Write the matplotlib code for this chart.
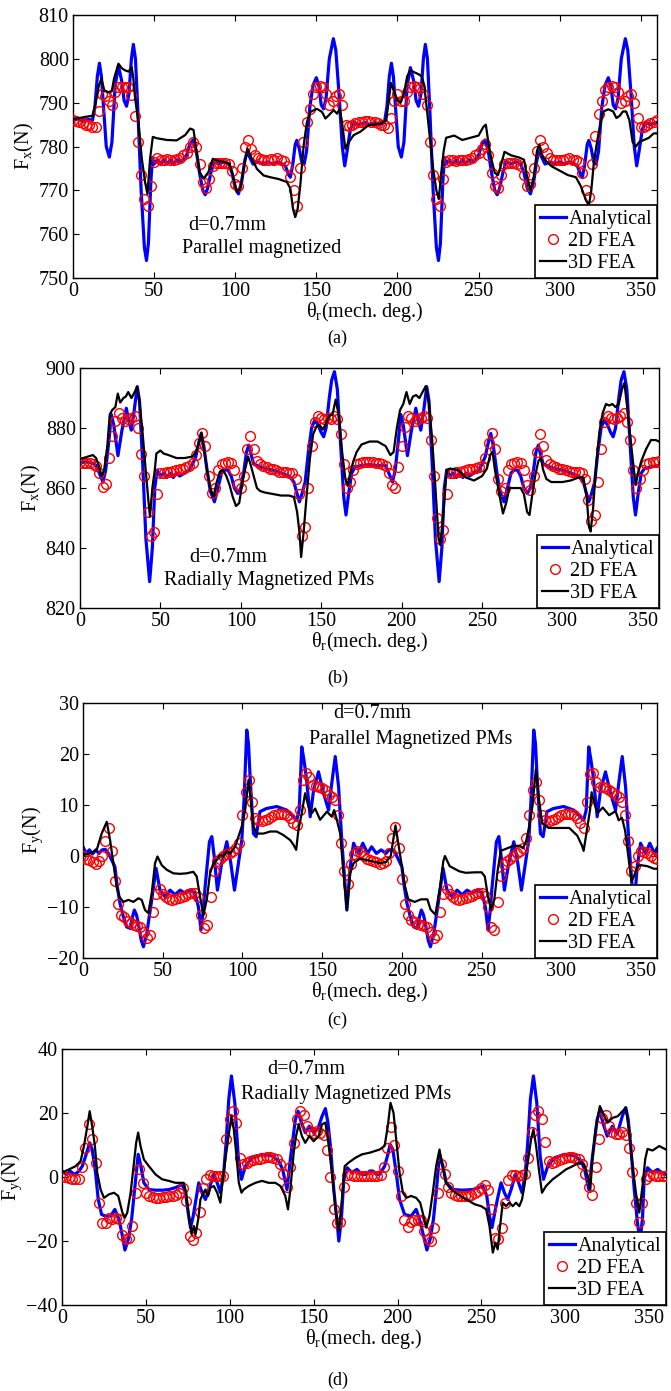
import numpy as np
import matplotlib
matplotlib.use('Agg')
import matplotlib.pyplot as plt

plt.rcParams['font.family'] = ['Liberation Serif', 'DejaVu Serif']
plt.rcParams['mathtext.fontset'] = 'custom'
plt.rcParams['mathtext.rm'] = 'Liberation Serif'
plt.rcParams['mathtext.it'] = 'Liberation Serif:italic'

# 2D FEA is sampled every 2 mech. deg
theta_2d = np.arange(0, 361, 2)

# ---------------- (a) Fx, parallel magnetized ----------------
a_ana = [(0, 786), (3, 786.3), (6, 785.8), (9, 786.2), (12, 786), (13.5, 789), (15, 796), (16.3, 799),
         (17.5, 796), (19, 788), (20.5, 780), (22.4, 777.6), (24, 781), (26, 794), (28, 798.4), (30, 795),
         (31.5, 790.5), (33, 789.2), (34.5, 792), (36, 800), (37.2, 803.3), (38.5, 800), (40, 788), (42, 770),
         (44, 757), (45.3, 754), (46.5, 758), (48, 772), (49, 777.5), (50, 776), (52, 777), (54, 776), (56, 777),
         (58, 776), (60, 777), (62, 776), (64, 777), (66, 776.5), (68, 777), (70, 778), (72, 780.5), (74, 781.5),
         (76, 779), (78, 774), (80, 770), (81.5, 769), (83, 770.5), (85, 774), (87, 776.5), (90, 776), (93, 776.5),
         (96, 776), (98, 774), (100, 770.5), (102, 769.2), (104, 772), (106, 777), (107.5, 779), (109, 777.5),
         (111, 776), (114, 776.5), (117, 776), (120, 776.5), (123, 776), (126, 776.5), (129, 776), (131, 775.5),
         (133, 773.5), (134, 773), (135.5, 776), (137, 780.5), (138, 781.4), (139.5, 779.5), (141, 776.5),
         (142.5, 776), (144, 779), (146, 789), (148, 794), (150, 795.7), (151.5, 794), (153, 789.5), (154.5, 788.6),
         (156, 791), (158, 800), (160.5, 804.6), (162, 802), (164, 792), (166, 780), (167.5, 775.6), (169, 779),
         (171, 784), (173, 785.5), (176, 785), (180, 785.5), (183, 785), (186, 785.5), (189, 785), (192, 785.5),
         (193.5, 789), (195, 796), (196.3, 799), (197.5, 796), (199, 788), (200.5, 780), (202.4, 777.6), (204, 781),
         (206, 794), (208, 798), (210, 795), (211.5, 790.5), (213, 789.2), (214.5, 792), (216, 800), (217.2, 803.3),
         (218.5, 800), (220, 788), (222, 770), (224, 757), (225.3, 754), (226.5, 758), (228, 772), (229, 777.5),
         (230, 776), (232, 777), (234, 776), (236, 777), (238, 776), (240, 777), (242, 776), (244, 777), (246, 776.5),
         (248, 777), (250, 778), (252, 780.5), (254, 781.5), (256, 779), (258, 774), (260, 770), (261.5, 769),
         (263, 770.5), (265, 774), (267, 776.5), (270, 776), (273, 776.5), (276, 776), (278, 774), (280, 770.5),
         (282, 769.2), (284, 772), (286, 777), (287.5, 779), (289, 777.5), (291, 776), (294, 776.5), (297, 776),
         (300, 776.5), (303, 776), (306, 776.5), (309, 776), (311, 775.5), (313, 773.5), (314, 773), (315.5, 776),
         (317, 780.5), (318, 781.4), (319.5, 779.5), (321, 776.5), (322.5, 776), (324, 779), (326, 789), (328, 794),
         (330, 795.7), (331.5, 794), (333, 789.5), (334.5, 788.6), (336, 791), (338, 800), (340.5, 804.6), (342, 802),
         (344, 792), (346, 780), (347.5, 775.6), (349, 779), (351, 784), (353, 785.5), (356, 785), (360, 785.5)]

a_2d = [786, 785.8, 785.5, 785.3, 785, 784.8, 784.5, 784.5, 788, 792,
        791.5, 790.5, 789.5, 792.5, 793.5, 793.6, 793.6, 793.6, 791.8, 787,
        781, 773.5, 768, 766.5, 771, 776.5, 777.3, 777, 777, 777.2,
        777, 777, 777.2, 777.5, 778, 778.5, 780, 781, 780, 776,
        772, 770.5, 772.5, 775.5, 776.2, 776.3, 776.3, 776.2, 776, 774.5,
        771.5, 771, 775, 780, 781.5, 779.5, 778, 777.5, 777.2, 777,
        777, 777.2, 777, 777.3, 777, 776.8, 775.5, 773, 770, 766.5,
        775, 781, 785.5, 788.5, 792, 793.5, 793.7, 793.5, 792, 789.5,
        790.5, 791.5, 792, 789.5, 785, 784.7, 785, 785.3, 785.5, 785.7,
        785.8, 785.8, 785.7, 785.5, 785.3, 785, 784.8, 784.3, 786.5, 790.5,
        792, 790.5, 790.3, 792.5, 793.5, 793.8, 793.5, 793.3, 792, 789.5,
        781, 773.5, 768, 766.5, 772.5, 776.5, 777, 777, 776.8, 777,
        777, 777, 777.2, 777.5, 778, 778.5, 779.5, 780.5, 778, 774,
        771, 770.5, 773.5, 776, 776.2, 776.3, 776.3, 776, 775.5, 773.5,
        771, 771.5, 775, 779, 781.5, 780, 778.5, 777.5, 777, 777,
        777, 777, 777.2, 777.3, 777, 777, 776.5, 774, 770, 768.5,
        776, 782.5, 787.5, 790.5, 793, 793.5, 793.7, 793.5, 792.5, 790,
        790.5, 791.5, 792, 790, 786.5, 784.5, 784.5, 785, 785.3, 785.6,
        786]

a_3d = [(0, 786.3), (4, 786.5), (8, 786.8), (12, 787), (14, 790), (16, 794), (17.5, 795.5), (19.3, 792.8),
        (21.8, 792.4), (23.9, 792.6), (25.3, 795.5), (28, 798.9), (30, 797.9), (32, 797.4), (34.2, 797.1),
        (36.2, 798.1), (37.2, 795.5), (38.3, 790.9), (40.3, 785.6), (42.4, 777.3), (44.4, 771.9), (45.9, 769.2),
        (47.5, 777.2), (49.2, 782.2), (51.6, 781.9), (57.8, 781.5), (63.9, 781.4), (69.1, 782.6), (72.2, 784.1),
        (74.3, 783.8), (75.9, 779.5), (78, 774.2), (80.5, 772.7), (83.5, 774.2), (86.2, 777.2), (88.7, 776.8),
        (92.8, 776.5), (96.5, 776.1), (98.6, 773.4), (101, 769.6), (103.1, 770.4), (105.1, 774.9), (107.6, 779.5),
        (110.3, 777.2), (113.4, 774.9), (117.5, 773.4), (121.6, 773), (126.7, 772.6), (131.9, 771.9), (134, 770.4),
        (135.6, 765.8), (137, 763.9), (138.5, 765.8), (140.1, 771.1), (142.2, 780.3), (144.2, 785.6), (146.3, 787.9),
        (150.4, 788.6), (153.5, 787.9), (155.6, 786.4), (157.6, 787.1), (160.7, 788.3), (162.8, 787.5),
        (164.4, 788.6), (165.8, 785.6), (167.9, 779.5), (170, 781), (173, 782.6), (177.2, 783.4), (182.3, 784.9),
        (186, 785), (190, 785.3), (193, 786), (194.5, 790), (196, 794.5), (198, 792.5), (200, 790.5), (202, 790),
        (204, 792), (206, 796), (208, 797.5), (210, 797), (213, 796.5), (215, 796), (216.5, 794), (218, 789),
        (220, 782), (222, 775), (224, 770), (225.5, 768), (227, 774), (228.5, 779), (230, 782), (235, 782.5),
        (240, 781.5), (245, 782), (250, 782.5), (253, 784.5), (254.5, 785), (256, 781), (258, 777), (260, 774),
        (262, 773.5), (264, 776), (266, 778.8), (270, 778), (275, 777.5), (278, 777), (280, 773), (282, 770),
        (284, 773), (286, 779), (287.5, 780.5), (289, 778), (292, 776.5), (295, 775.5), (300, 774.5), (305, 773.5),
        (310, 773), (313, 771), (316, 768), (318, 766.5), (319.5, 770), (321, 776), (323, 781), (325, 785),
        (327, 788), (330, 788.5), (333, 788), (335, 786.5), (337, 787), (339, 788), (341, 788), (343, 786),
        (345, 781), (347, 780), (349, 781), (352, 781.5), (355, 782), (358, 783), (360, 783)]

# ---------------- (b) Fx, radially magnetized ----------------
b_ana = [(0, 868.5), (4, 868.7), (8, 868.3), (10, 867.5), (12, 865), (14.3, 862), (16, 866), (18, 876),
         (19.5, 884.5), (21, 881), (23.6, 870.8), (26, 879), (28.8, 886.6), (30.5, 882), (31.9, 879.3), (33.5, 885),
         (35.6, 893.8), (37, 889), (39, 868), (41, 843), (43.3, 828.8), (45, 840), (46.5, 860), (48, 866), (50, 864),
         (52, 865), (54, 863.5), (56, 865), (58, 863.5), (60, 865), (62, 864), (65, 865), (68, 866), (70, 868),
         (72, 870.5), (74, 875.5), (75.4, 878.2), (77, 874), (79, 866), (81, 859), (83.6, 855.4), (86, 860.5),
         (88, 865), (90, 866), (92, 866), (94, 864), (96, 860), (98.1, 858.2), (100, 860), (102, 866), (103.5, 872),
         (105, 874.3), (106.5, 871), (108, 868), (110, 867.5), (115, 866.5), (120, 866), (125, 865), (130, 864),
         (133, 862), (134.5, 859), (136.4, 855.4), (138, 858), (140, 862), (142, 872), (144, 880), (146, 882.7),
         (148, 881), (150, 878.5), (151.5, 877.1), (153, 880), (155, 890), (156.5, 896), (158.2, 898.8), (160, 893),
         (162, 875), (164, 857), (165.4, 851), (167, 858), (169, 865), (171, 867), (175, 867.5), (180, 867.8),
         (185, 867.5), (190, 867.5), (192, 865), (194.3, 862), (196, 866), (198, 876), (199.5, 884.5), (201, 881),
         (203.6, 870.8), (206, 879), (208.8, 886.6), (210.5, 882), (211.9, 879.3), (213.5, 885), (215.6, 893.8),
         (217, 889), (219, 868), (221, 843), (223.3, 828.8), (225, 840), (226.5, 860), (228, 866), (230, 864),
         (232, 865), (234, 863.5), (236, 865), (238, 863.5), (240, 865), (242, 864), (245, 865), (248, 866),
         (250, 868), (252, 870.5), (254, 875.5), (255.4, 878.2), (257, 874), (259, 866), (261, 859), (263.6, 855.4),
         (266, 860.5), (268, 865), (270, 866), (272, 866), (274, 864), (276, 860), (278.1, 858.2), (280, 860),
         (282, 866), (283.5, 872), (285, 874.3), (286.5, 871), (288, 868), (290, 867.5), (295, 866.5), (300, 866),
         (305, 865), (310, 864), (313, 862), (314.5, 859), (316.4, 855.4), (318, 858), (320, 862), (322, 872),
         (324, 880), (326, 882.7), (328, 881), (330, 878.5), (331.5, 877.1), (333, 880), (335, 890), (336.5, 896),
         (338.2, 898.8), (340, 893), (342, 875), (344, 857), (345.4, 851), (347, 858), (349, 865), (351, 866.5),
         (355, 867), (360, 867.5)]

b_2d = [868.8, 868.5, 868.5, 868.3, 868, 867.3, 865, 860.5, 861.5, 870,
        877.5, 882.5, 885, 883.5, 882.5, 883, 883.5, 884, 880, 871.5,
        864, 852, 844, 845.5, 858, 865, 865, 865.3, 865.5, 865.7,
        866, 866.3, 866.5, 867, 867.5, 868.5, 871, 875, 878.5, 874,
        864, 858.5, 860, 866, 868, 868.5, 868.7, 868.5, 866, 861.5,
        860, 864, 873, 877.5, 873, 869, 868, 867.5, 867, 866.5,
        866.3, 866, 865.5, 865.5, 865.3, 865, 865, 863, 858, 844,
        847, 860, 874, 882, 884, 883.5, 883, 883.5, 883, 884,
        883, 878, 868, 860, 862, 866, 868, 868.5, 868.7, 868.8,
        868.8, 868.7, 868.5, 868.3, 868, 867.5, 865, 861, 860, 867,
        874, 880.5, 884, 883.5, 882.5, 883, 883.5, 884, 883.5, 876,
        864, 850, 843, 846, 858, 865, 865, 865.2, 865.5, 865.7,
        866, 866.2, 866.5, 866.8, 867, 867.5, 870, 875, 878.5, 873,
        863, 859, 860, 866, 868, 868.5, 868.7, 868.5, 866, 861,
        859.5, 864, 872, 878, 874, 869.5, 868, 867.5, 867, 866.5,
        866.3, 866, 865.8, 865.5, 865.5, 865.5, 865, 863, 856, 849,
        851, 862, 873, 882, 884, 883.5, 883, 883.5, 884, 885,
        882, 876, 866, 860, 863, 866, 868, 868.5, 868.7, 868.8,
        869]

b_3d = [(0, 869.5), (2, 870), (5, 870.5), (8, 871), (10, 870), (12, 867), (13.5, 864), (15, 866), (17, 874),
        (18.5, 884.5), (20, 886), (22, 887), (23.5, 891.5), (25, 888.5), (27, 890), (28.5, 890.5), (30, 892),
        (32, 890), (34, 892), (35.5, 893.8), (37, 889), (39, 878), (41, 865), (42.5, 856), (43.5, 850.5), (45, 860),
        (46.5, 866), (47.5, 871.5), (50, 872.5), (52, 871.5), (55, 871), (60, 870), (65, 870), (70, 870.5),
        (72, 872), (74, 875), (75.5, 878.5), (77, 873), (79, 866), (81, 860), (83, 857), (85, 862), (87, 865.5),
        (89, 866), (91, 864), (93, 861), (95, 857), (97, 854), (99, 855), (101, 862), (103, 867), (104.5, 870.5),
        (106, 868), (108, 864), (110, 860), (112, 859), (115, 858.5), (120, 858), (125, 857.5), (130, 857.5),
        (133, 857), (135, 852), (136.5, 845), (137.5, 837), (139, 845), (141, 858), (143, 870), (145, 878),
        (147, 880.5), (149, 881), (151, 879.5), (153, 881.5), (155, 884), (157, 884.5), (159, 889.5), (161, 884),
        (163, 872), (165, 863), (166.5, 861), (168, 865), (170, 869), (172, 872), (175, 874.5), (180, 875.5),
        (185, 875.5), (190, 874), (193, 871), (195, 872), (197, 880), (199, 886), (201, 888), (203, 892),
        (205, 888), (207, 890.5), (209, 891), (211, 890), (213, 892), (215, 894), (217, 888), (219, 876),
        (221, 860), (223, 843), (224, 841), (226, 852), (228, 866), (230, 866.5), (235, 866), (240, 863.5),
        (245, 862.5), (250, 864), (253, 866.5), (255, 871), (256.5, 872), (258, 866), (261, 857), (263, 851.5),
        (265, 855), (267, 860), (270, 860), (274, 860), (276, 858), (278, 852), (279.5, 851), (281, 857),
        (283, 864), (285, 869), (286.5, 870), (288, 866), (290, 863), (293, 862), (296, 862), (300, 862),
        (305, 862.5), (310, 863.5), (313, 863.5), (315, 857), (316.5, 847), (317.5, 845.5), (319, 853), (321, 868),
        (323, 879), (325, 885), (327, 888), (329, 887.5), (331, 888), (333, 887), (335, 888), (337, 893),
        (338.5, 895), (340, 888), (342, 878), (344, 868), (345.5, 861), (347, 865), (349, 869), (352, 873),
        (355, 876), (358, 876), (360, 875.5)]

# ---------------- (c) Fy, parallel magnetized ----------------
c_ana = [(0, 1.8), (2, 0.5), (4, 1.2), (6, 0.4), (8, 1.2), (10, 0.5), (12, 1.2), (14, 1.3), (16, 0.5), (18, -0.8),
         (20, -2.1), (21.5, -6), (23.2, -9.3), (25.3, -11.9), (27.4, -13.9), (29.5, -14.2), (31, -12), (32.2, -10.6),
         (33.5, -11.5), (34.7, -13.2), (36.5, -16.5), (37.9, -17.8), (40, -15.2), (43.1, -8.6), (45.8, -2.4),
         (48.3, -6.7), (51.5, -8), (54.6, -6.7), (57.7, -7.6), (60.9, -6.7), (64, -7.3), (67.2, -6.7), (70.3, -7.3),
         (72.4, -10), (74, -14.5), (75.3, -11), (76.6, -6), (79.3, 2.8), (80.8, 3.8), (82.4, -0.4), (84.3, -6.7),
         (87, -1.4), (90.2, 2.8), (92.7, -1.4), (95, -6.7), (97.5, -1.4), (99.6, 3.1), (101, 11), (102.7, 24.7),
         (103.8, 22), (104.8, 15.6), (106.9, 4.4), (108.6, 3.8), (111, 8.7), (115, 9.3), (121.5, 9.7), (127.8, 9),
         (132, 7.7), (134, 7), (135.6, 9), (137.2, 21.4), (138.5, 19), (140, 15.6), (142.5, 7.7), (144.6, 12.9),
         (147.7, 16.5), (150.8, 12.4), (154, 9), (156, 14.2), (158.2, 19.5), (160.3, 13.6), (162.3, 3.1),
         (164.4, -6), (165.5, -10.6), (167.6, -2.1), (169.7, 2.5), (172.8, 0.5), (175.5, 2.5), (178.5, 0.5),
         (181, 1.8), (184, 0.5), (187, 1.2), (190, 0.5), (192, 1.2), (194, 1.3), (196, 0.5), (198, -0.8),
         (200, -2.1), (201.5, -6), (203.2, -9.3), (205.3, -11.9), (207.4, -13.9), (209.5, -14.2), (211, -12),
         (212.2, -10.6), (213.5, -11.5), (214.7, -13.2), (216.5, -16.5), (217.9, -17.8), (220, -15.2), (223.1, -8.6),
         (225.8, -2.4), (228.3, -6.7), (231.5, -8), (234.6, -6.7), (237.7, -7.6), (240.9, -6.7), (244, -7.3),
         (247.2, -6.7), (250.3, -7.3), (252.4, -10), (254, -14.5), (255.3, -11), (256.6, -6), (259.3, 2.8),
         (260.8, 3.8), (262.4, -0.4), (264.3, -6.7), (267, -1.4), (270.2, 2.8), (272.7, -1.4), (275, -6.7),
         (277.5, -1.4), (279.6, 3.1), (281, 11), (282.7, 24.7), (283.8, 22), (284.8, 15.6), (286.9, 4.4),
         (288.6, 3.8), (291, 8.7), (295, 9.3), (301.5, 9.7), (307.8, 9), (312, 7.7), (314, 7), (315.6, 9),
         (317.2, 21.4), (318.5, 19), (320, 15.6), (322.5, 7.7), (324.6, 12.9), (327.7, 16.5), (330.8, 12.4),
         (334, 9), (336, 14.2), (338.2, 19.5), (340.3, 13.6), (342.3, 3.1), (344.4, -6), (345.5, -10.6),
         (347.6, -2.1), (349.7, 2.5), (352.8, 0.5), (355.5, 2.5), (358.5, 0.5), (360, 1.5)]

c_2d = [0, -0.5, -0.8, -1.2, -1.5, -1, 0, 3, 5.5, 1,
        -5, -9.5, -11.5, -12, -12.8, -13.2, -13.5, -13.8, -14, -15,
        -16, -15.5, -11, -7.5, -6.5, -7.5, -8, -8.5, -8.7, -8.5,
        -8.3, -8, -7.8, -7.5, -7.3, -7.2, -8, -11.5, -14.2, -13.5,
        -8, -3, -1, -0.5, 0, 0.3, 0.5, 1, 1.5, 2.5,
        8, 12.5, 15, 10.5, 7.5, 7, 6.8, 7, 7.3, 7.7,
        8, 8.2, 8.3, 8.3, 8, 7.5, 6.5, 6, 9, 15,
        16.2, 15.5, 14, 13.7, 13.5, 13.3, 13, 12, 11.5, 11,
        8, 2.5, -3, -5.5, -1.5, 0.3, 1, 0.8, 0, -0.5,
        -0.8, -1, -1.2, -1.5, -1.3, -1, 0.5, 3.5, 5.7, 1.5,
        -4.5, -9.5, -11.5, -12.5, -13, -13.3, -13.5, -13.8, -14, -15,
        -16, -15.5, -11, -7.5, -6.5, -7.5, -8, -8.5, -8.7, -8.5,
        -8.3, -8, -7.8, -7.5, -7.3, -7.2, -7.8, -10, -14, -14.5,
        -9, -4, -1.5, -1, -0.5, 0, 0.5, 1, 1.5, 3.5,
        8, 13, 14.5, 11, 8, 7, 6.8, 7, 7.3, 7.7,
        8, 8.2, 8.3, 8.2, 8, 7.5, 6.5, 5.5, 10.5, 16,
        16.3, 14.5, 13.5, 13.5, 13.3, 13, 12.5, 12, 11.5, 10.5,
        8, 3, -3, -2, 0, 1, 0.8, 0.5, 0, -0.3,
        -0.5]

c_3d = [(0, 0.2), (4.4, 0.5), (8.6, 1.2), (11.7, 4.4), (14.9, 6.7), (17, 3.1), (19, -1.4), (21.1, -6), (22.8, -8),
        (25.3, -9), (28.5, -8.6), (31.6, -9), (34.7, -8.3), (36.8, -8.6), (38.9, -10.6), (41, -11.2), (43.1, -7.3),
        (45.2, -1.4), (46.7, -0.1), (49.4, -1.8), (52.5, -2.7), (56.7, -3.4), (60.9, -3.5), (65, -3.4), (69.2, -3.1),
        (71.3, -4), (73.4, -8), (75.5, -11.6), (77.6, -8.6), (79.7, -3.4), (81.8, -1.4), (83.9, -0.8), (86, 0.2),
        (88, -0.1), (90.2, 0.9), (92.3, 0.5), (95.4, 1.8), (97.5, 3.8), (99.6, 5.8), (101.7, 9), (103.8, 14.9),
        (105.2, 11), (106.9, 5.8), (109, 4.4), (113.2, 4.4), (117.4, 4.8), (121.5, 4.8), (125.7, 4.1), (130, 3.1),
        (132, 2.2), (133.7, 1.2), (135.1, 5.1), (137.2, 8.4), (139.3, 12.3), (141.4, 9.7), (143.5, 8.4),
        (145.6, 9.3), (148.7, 7.1), (153, 8.7), (156, 7.7), (157.5, 9), (159.2, 7.1), (161.3, 4.4), (163.4, -3.4),
        (165.5, -10.6), (167.6, -3.4), (169.7, -1.4), (173.8, -0.5), (178, -0.8), (182.2, -1.1), (186.4, -1.4),
        (190, -1.2), (193, 0), (196, 6), (198, 2), (200, -2), (202, -6), (204, -8.5), (208, -9), (212, -8.5),
        (216, -8.5), (218, -10.5), (221, -11.5), (224, -6), (226, -1), (227, 0), (230, -2), (236, -3), (240, -3.3),
        (246, -3.2), (250, -3.2), (252, -4), (254, -8), (256, -10.5), (258, -8.5), (260, -3), (262, 1), (266, 1.5),
        (270, 2), (274, 2), (276, 1.5), (278, 3), (280, 6), (282, 10), (284, 17), (286, 11), (288, 6.5),
        (292, 5.5), (300, 5.5), (305, 5.5), (310, 4), (313, 2), (314, 1), (316, 5), (318, 9), (319, 12.5),
        (321, 10), (323, 8.5), (326, 9.5), (330, 8), (334, 8.8), (336, 7), (338, 7.5), (340, 5), (342, 0),
        (344, -5), (345.5, -4), (348, -2), (350, -1.8), (354, -2), (358, -2.5), (360, -2.5)]

# ---------------- (d) Fy, radially magnetized ----------------
d_ana = [(0, 1.9), (2.5, 0.8), (5, 1.8), (7.5, 0.8), (10, 1.8), (12.1, 3.4), (14.1, 6.6), (16.5, 10.7), (18, 8.6),
         (20, 1.4), (21.6, -7), (23.6, -11.7), (26, -12.2), (29, -12.2), (31.5, -10.1), (34, -13.2), (36, -18.4),
         (37.5, -22.8), (39.5, -19.5), (41.5, -13.2), (43.5, -2.8), (45.4, 7.1), (46.8, 4), (48.8, -1.8),
         (51.8, -3.9), (55.8, -4.1), (60, -4.1), (63.7, -3.9), (67.7, -3.3), (71.6, -2.3), (73.6, -4.9),
         (75.2, -11.1), (76.6, -15.8), (78.2, -12.2), (80, -6.5), (81.5, -1.8), (83.5, -4.9), (85.5, -7),
         (87.5, -3.9), (90.5, 0.8), (92.5, -1.8), (94.4, -4.9), (96.4, 1.4), (97.8, 10.7), (99.4, 24.3), (101, 31.6),
         (103, 23.2), (105, 6.6), (107, -0.7), (109.3, 3.4), (113.3, 6), (119.2, 7.1), (125.2, 6.6), (129.2, 5),
         (131.5, 2.4), (134.1, -3.9), (136.1, 5.5), (139.1, 18), (140.7, 20.6), (142.7, 17), (145, 13.9),
         (147.4, 15.9), (150, 13.9), (152.5, 15), (155, 19), (157, 21.4), (158.5, 17), (160, 9.7), (162, -3.9),
         (164, -14.3), (165, -20), (166.5, -13.2), (168, -0.7), (170, 2.9), (172.8, 1.4), (175.8, 2.4),
         (178.8, 0.8), (181.3, 0.8), (183.5, 1.9), (185.3, 1.9), (187.5, 0.8), (189.2, 0.8), (192.3, 3.4),
         (194, 6.6), (195.6, 10.2), (197.2, 8.6), (199.2, 1.4), (201.2, -7), (204.2, -11.7), (208.1, -12.2),
         (211.1, -10.1), (213.1, -13.2), (215.5, -18.4), (217.5, -22.8), (219.4, -19.5), (221.4, -13.2),
         (223.4, -2.8), (225, 7.1), (227, 3.5), (229, -1.8), (233, -3.9), (239, -4.1), (245, -3.9), (250.8, -2.8),
         (253.2, -5.9), (254.8, -12.2), (256.3, -15.8), (258, -11), (259.7, -6.5), (261.7, -1.8), (263.7, -4.9),
         (265.7, -7), (267.7, -3.9), (270.2, 0.8), (272.2, -1.8), (274.2, -4.9), (276.2, 1.4), (277.6, 10.7),
         (279.2, 24.3), (281, 31.6), (283, 23.2), (285, 6.6), (287, -0.7), (289.5, 3.4), (293.5, 6), (299.5, 7.1),
         (305.5, 6.6), (309.5, 5), (311.5, 2.4), (314, -3.9), (316, 5.5), (319, 18), (320.5, 20.6), (323, 16),
         (325, 12.8), (328, 15.9), (331, 13.5), (334, 19.1), (336, 21.7), (337.5, 18), (339, 9.7), (341.1, -3.9),
         (343, -14.3), (344.5, -20), (346, -13), (347, -0.7), (349, 2.9), (352, 1.4), (355, 2.4), (359, 0.8),
         (360, 1)]

d_2d = [0.3, 0, -0.3, -0.6, -0.7, -0.5, 3, 9, 16.5, 12,
        4.5, -8, -14.5, -14.3, -12.7, -13.2, -12.7, -13.2, -18, -19.5,
        -19, -15.3, -5, 2.5, -2, -5, -5.9, -6.2, -6.5, -6.5,
        -6.3, -6.2, -6, -5.8, -5.5, -5, -3.5, -7.5, -18.5, -19.8,
        -17.4, -11, -3.5, -0.5, 0.8, 0.3, 0.3, 0.3, 0.3, 12,
        18, 20.6, 17, 6, 4, 4.5, 5, 5.3, 5.5, 5.8,
        6, 6.2, 6.2, 6, 5.5, 4, 1, -3, 3, 10.5,
        18, 20.5, 19.5, 16, 14.4, 13.9, 14.4, 13.9, 13.3, 8.6,
        0, -10, -14.5, -14, -3, 0.5, 0.5, 0.3, 0.3, 0.3,
        0.3, 0.3, 0.3, 0.2, 0.2, 0.5, 3, 9, 15.5, 10,
        2, -6, -13.5, -15.5, -14, -13.5, -13.5, -13.5, -17, -19.5,
        -20, -16, -5, 4, 1, -3, -5, -5.5, -6, -6,
        -6, -5.8, -5.5, -5, -4.3, -3.5, -2.5, -4, -10, -19,
        -19.5, -16, -8, -1, 0.8, 0.5, 0.3, 0.5, 1, 6,
        14, 19.5, 20.5, 18, 11, 5, 4.3, 4.8, 5.3, 5.7,
        6, 6.2, 6.2, 6, 5.5, 4, 1, -3, -5.5, 3,
        12, 18.5, 19.5, 16, 14, 13.5, 13.5, 14, 13, 9,
        1.5, -8, -14, -8, -0.5, 0.3, 0.5, 0.3, 0.3, 0.3,
        0.3]

d_3d = [(0, 1.4), (4.2, 2.4), (8.1, 3.4), (11.1, 5), (13.1, 9.7), (15.1, 15.9), (16.5, 20.6), (18, 15.9),
        (19.6, 9.7), (21, 1.4), (23, -3.9), (25, -6.5), (28, -5.4), (31, -4.9), (33.5, -5.9), (36, -11.1),
        (37.5, -12.7), (38.9, -11.1), (40.9, -4.9), (42.9, 4.5), (44.2, 10.7), (45.4, 13.9), (46.8, 9.7),
        (48.8, 5.5), (51.8, 3.4), (55.8, 0.8), (59.7, -0.7), (63.7, -1.2), (67.7, -1.8), (72.6, -1.8), (74, -4.9),
        (75.6, -12.2), (77.2, -17.9), (78.6, -15.3), (79.6, -17.9), (81.2, -13.2), (82.5, -7), (83.9, -5.4),
        (85.5, -3.9), (87.1, -5.9), (88.5, -3.3), (90.5, -2.8), (92.5, -4.9), (94.4, -8), (95.8, -0.7), (97.4, 5.5),
        (99, 11.8), (101, 19.1), (102.4, 14.9), (103.8, 7.6), (105.4, -1.8), (107, -4.9), (108.3, -3.9),
        (111.3, -2.8), (115.3, -1.8), (119.2, -1.2), (123.2, -1.8), (127.2, -1.8), (130.2, -2.8), (133.1, -5.9),
        (134.7, -10.1), (136.1, -3.9), (138.1, 7.6), (139.5, 12.8), (141.1, 16.5), (143, 12.8), (145, 10.7),
        (147.4, 12.8), (150, 11.2), (153, 12.8), (155, 16.5), (157, 17), (159, 9.7), (161.3, -0.7), (163.3, -11.1),
        (164.9, -16.9), (166.5, -9.1), (168.5, 3.4), (170.8, 4.5), (174.8, 6), (178.8, 7.1), (183.3, 7.6),
        (189.3, 8.6), (192.3, 9.7), (194.2, 15.9), (195.8, 23.2), (197.6, 20.1), (199.2, 11.8), (201.2, 1.4),
        (203.2, -4.9), (205.2, -6.5), (208.1, -5.9), (211.1, -6.5), (213.5, -8), (215.5, -12.2), (217.1, -15.8),
        (219, -12.2), (221, -4.9), (223, 3.4), (225, 8.6), (227, 2.9), (229, -1.8), (232, -3.9), (236, -5.4),
        (241, -7), (246, -8.5), (249.8, -9.1), (252.8, -10.1), (254.8, -15.3), (256.8, -23.6), (258.3, -20.5),
        (259.7, -22.6), (260.7, -17.4), (262.7, -8), (264.7, -9.1), (266.7, -8), (268.7, -9.1), (270.6, -8),
        (272.6, -9.1), (274.2, -7), (275.6, -2.8), (277.6, 4.5), (279.6, 11.8), (281, 14.9), (282.6, 9.7),
        (284.5, 1.4), (286.1, -4.9), (288.5, -2.8), (292.5, -0.7), (296.4, 0.8), (300.4, 2.4), (304.4, 3.4),
        (308.3, 4.5), (311.3, 4), (313.9, -0.7), (314.9, -3.9), (316.3, 6.6), (318.3, 15.9), (320.6, 22.2),
        (323.2, 19.1), (325.2, 17), (328.2, 18.5), (331.2, 19), (334.1, 20.6), (336.1, 21.7), (338.1, 13.9),
        (340.1, 3.4), (342.1, -4.9), (344.1, -11.1), (346, -2.8), (347.6, 5.5), (349, 8.8), (352, 8.3),
        (356, 9.7), (360, 8.6)]

FS = 14.5


def panel(rect, ana, fea2, fea3, ylim, yticks, ylabel, notes, caption, cap_y):
    ax = fig.add_axes(rect)
    xa, ya = np.array(ana).T
    ax.plot(xa, ya, color='#0000ff', lw=2.3, label='Analytical', zorder=2)
    ax.plot(theta_2d, fea2, 'o', ms=7, mfc='none', mec='#ff0000', mew=1.0, label='2D FEA', zorder=3)
    x3, y3 = np.array(fea3).T
    ax.plot(x3, y3, color='k', lw=1.6, label='3D FEA', zorder=4)
    ax.set_xlim(0, 360)
    ax.set_ylim(*ylim)
    ax.set_xticks(np.arange(0, 351, 50))
    ax.set_yticks(yticks)
    ax.tick_params(direction='in', top=True, right=True, length=4, labelsize=FS, pad=3)
    for s in ax.spines.values():
        s.set_linewidth(1.0)
    ax.set_ylabel(ylabel, fontsize=FS, labelpad=2)
    ax.set_xlabel(r'$\mathrm{\theta_r}$(mech. deg.)', fontsize=FS, labelpad=-1)
    for (tx, ty, s) in notes:
        ax.text(tx, ty, s, fontsize=FS, ha='left', va='center', zorder=5)
    leg = ax.legend(loc='lower right', fontsize=FS, borderaxespad=0, fancybox=False, edgecolor='k',
                    framealpha=1, handlelength=1.3, handletextpad=0.1, borderpad=0.25, labelspacing=0.15)
    leg.get_frame().set_linewidth(1.2)
    leg.set_zorder(10)
    fig.text(0.503, cap_y, caption, fontsize=13, ha='center', va='center')
    return ax


fig = plt.figure(figsize=(6.71, 13.91), dpi=100)

panel([0.1088, 0.8001, 0.8703, 0.1891], a_ana, a_2d, a_3d, (750, 810), np.arange(750, 811, 10),
      r'F$_\mathrm{x}$(N)', [(71, 762, 'd=0.7mm'), (67, 756.8, 'Parallel magnetized')], '(a)', 1 - 338 / 1391)
panel([0.1192, 0.5629, 0.8629, 0.1725], b_ana, b_2d, b_3d, (820, 900), np.arange(820, 901, 20),
      r'F$_\mathrm{x}$(N)', [(68, 837, 'd=0.7mm'), (52.3, 829.3, 'Radially Magnetized PMs')], '(b)', 1 - 678 / 1391)
panel([0.1237, 0.3113, 0.8554, 0.1833], c_ana, c_2d, c_3d, (-20, 30), np.arange(-20, 31, 10),
      r'F$_\mathrm{y}$(N)', [(156.7, 28, 'd=0.7mm'), (142, 22.9, 'Parallel Magnetized PMs')], '(c)', 1 - 1020 / 1391)
panel([0.0924, 0.0618, 0.9001, 0.1840], d_ana, d_2d, d_3d, (-40, 40), np.arange(-40, 41, 20),
      r'F$_\mathrm{y}$(N)', [(122.5, 33.75, 'd=0.7mm'), (106.7, 25.9, 'Radially Magnetized PMs')], '(d)', 1 - 1380 / 1391)

fig.savefig('out.png', dpi=100)
